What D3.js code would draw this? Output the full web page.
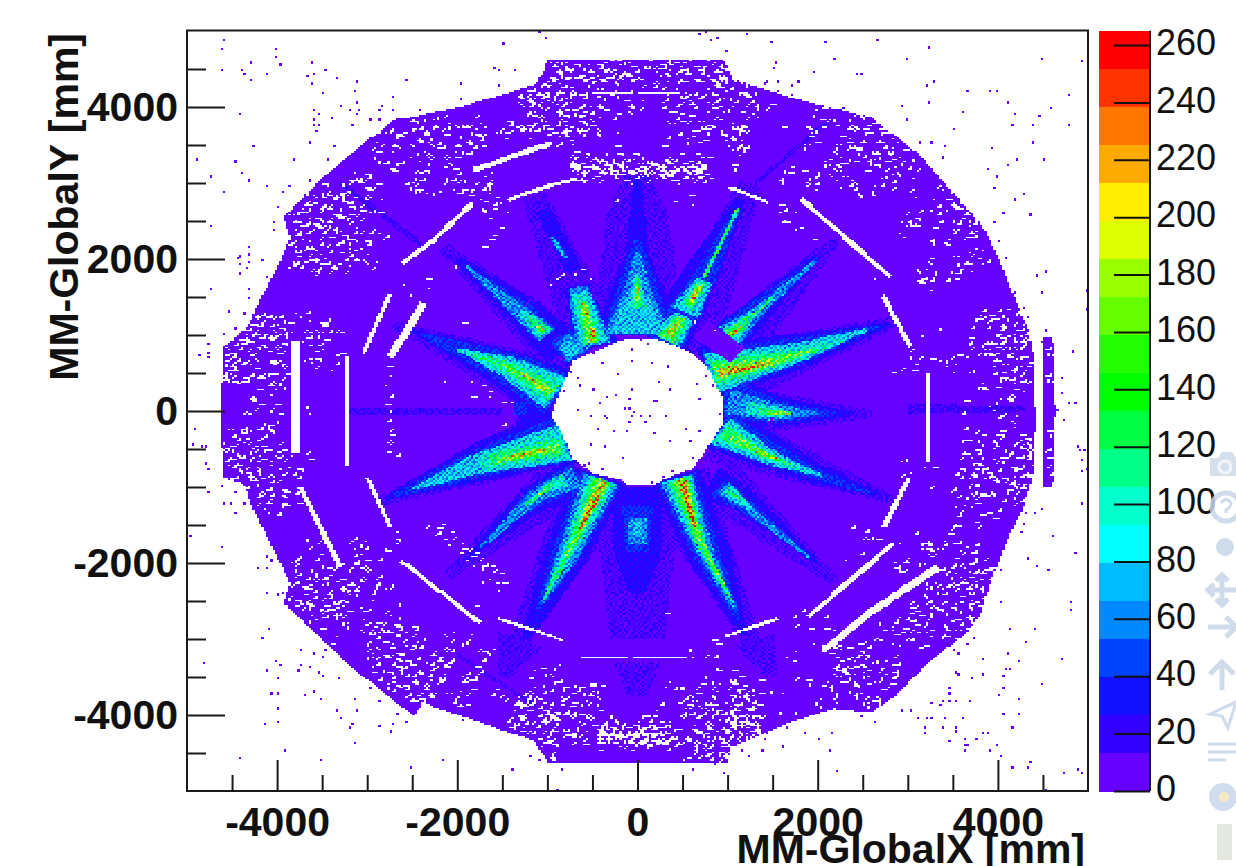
<!DOCTYPE html>
<html>
<head>
<meta charset="utf-8">
<title>MM-GlobalX vs MM-GlobalY</title>
<script src="https://cdn.jsdelivr.net/npm/d3@7"></script>
<style>
  html, body { margin: 0; padding: 0; background: #fff; overflow: hidden; }
  text { font-family: "Liberation Sans", Arial, sans-serif; fill: #111; }
</style>
</head>
<body>
<svg id="chart" width="1236" height="866"></svg>
<script>
// colour bar, low to high
var palette = ["#6600ff","#3300ff","#1111ff","#0044ff","#0088ff","#00bbff","#00ffff","#00ffcc","#00ff88","#00ff44",
               "#00ff00","#22ff00","#66ff00","#99ff00","#ddff00","#ffee00","#ffaa00","#ff7700","#ff3300","#ff0000"];
var colorTicks = [0,20,40,60,80,100,120,140,160,180,200,220,240,260];
var colorMax = 265;
var xMajor = [-4000,-2000,0,2000,4000];
var yMajor = [-4000,-2000,0,2000,4000];
var minorTicks = [-4500,-3500,-3000,-2500,-1500,-1000,-500,500,1000,1500,2500,3000,3500,4500];
var binSize = 25;
var baseLevel = 6;

// detector edge [x, y] in mm
var outline = [[-988,4619],[955,4619],[1066,4356],[1920,4053],[2586,3869],[3108,3395],[3508,2869],[3841,2421],[4029,1948],
  [4229,1369],[4340,1066],[4396,711],[4418,-158],[4385,-869],[4285,-1263],[4140,-1605],[4063,-1829],[3918,-2264],[3807,-2658],
  [3663,-2908],[3252,-3277],[2842,-3764],[2586,-3961],[2176,-3908],[1698,-4093],[1032,-4422],[999,-4619],[-988,-4619],
  [-1154,-4330],[-1521,-4185],[-1743,-4093],[-2375,-3843],[-2486,-4001],[-2708,-3803],[-3219,-3316],[-3663,-2816],[-3929,-2527],
  [-3852,-2264],[-4074,-1737],[-4273,-1263],[-4373,-948],[-4595,-869],[-4618,-342],[-4618,276],[-4595,842],[-4329,1105],
  [-4207,1421],[-3996,1895],[-3852,2290],[-3929,2553],[-3741,2777],[-3519,3040],[-3152,3408],[-2708,3830],[-1965,4001],
  [-1332,4224],[-1132,4290]];
var rightStrip = [[4500,974],[4610,974],[4640,0],[4610,-1000],[4500,-1000],[4490,0]];
var hole = [[56,961],[-189,934],[-710,671],[-821,368],[-932,53],[-944,-79],[-821,-342],[-710,-645],[-488,-816],[-189,-908],
  [-100,-974],[178,-974],[400,-842],[622,-750],[810,-421],[955,-158],[955,145],[777,579],[555,803],[255,934]];

// ribbons: [value, x, y, halfWidth, x, y, halfWidth, ...] in mm
var haze = [
  [14, 0,1000,520, 0,2600,340, 0,3100,140],
  [14, 500,800,380, 1250,3000,130],
  [14, 1000,800,340, 2200,2250,60],
  [14, 800,400,450, 2900,1200,60],
  [14, 900,0,380, 2600,-30,50],
  [14, 900,-300,380, 2900,-1200,40],
  [14, 850,-900,340, 2200,-2250,50],
  [14, 400,-900,420, 1300,-3100,90],
  [14, 0,-1000,500, 0,-3000,300],
  [14, -400,-900,420, -1350,-3100,100],
  [14, -700,-800,340, -2100,-2150,60],
  [14, -800,-300,420, -2900,-1200,50],
  [14, -850,250,420, -2700,1150,50],
  [14, -800,800,340, -2150,2150,70],
  [14, -500,1000,340, -1150,2850,130],
  [16, -3200,0,40, -1500,0,60],
  [16, 3000,30,70, 4300,30,40],
  [14, 0,-3300,260, 0,-3750,100],
  [14, -1300,-3000,280, -1500,-3500,60],
  [14, 1300,-3000,240, 1500,-3500,50],
  [16, -2000,-3200,24, -1100,-3900,16],
  [16, 2300,4000,16, 1300,3000,24],
  [16, -3300,3000,30, -2400,2200,36]
];
var streakA = [
  [24, -450,850,250, -680,1650,130],
  [60, -480,870,200, -660,1640,110],
  [90, -490,900,150, -640,1560,85],
  [115, -500,900,100, -620,1450,55],
  [150, -500,900,55, -600,1400,36],
  [200, -510,920,26, -500,1100,18],
  [200, -540,1250,26, -600,1420,18]
];
var streakB = [
  [24, 0,1000,460, 0,1300,400, 0,2100,120, 0,3050,50],
  [38, 0,1000,400, 0,1500,260, 0,2250,40],
  [60, 0,1020,360, 0,1600,150, 0,2100,30],
  [75, 0,1020,300, 0,1500,130],
  [90, 0,1350,100, 0,1800,30],
  [120, 0,1380,46, 0,1750,24],
  [170, 0,1450,24, 0,1650,16],
  [60, 0,2350,12, 0,3100,12]
];
var streakC = [
  [24, 300,900,280, 700,1800,200, 1150,2800,60],
  [38, 300,900,220, 740,1750,130, 1100,2650,36],
  [75, 320,950,180, 520,1250,110],
  [75, 520,1300,170, 740,1720,90],
  [100, 310,930,140, 500,1230,85],
  [100, 540,1350,85, 720,1700,55],
  [140, 320,950,95, 490,1230,55],
  [140, 570,1400,50, 700,1680,34],
  [175, 350,1000,50, 470,1190,26],
  [175, 590,1420,30, 680,1640,18],
  [245, 610,1440,16, 670,1600,14],
  [75, 730,1750,22, 1120,2680,18],
  [120, 730,1750,18, 1120,2680,14]
];
var streakD = [
  [24, 1000,950,230, 2000,2050,36],
  [38, 1020,1000,190, 1500,1550,70, 2000,2000,18],
  [60, 1020,1000,160, 1300,1280,70, 1980,1980,16],
  [90, 1030,1000,120, 1270,1270,42],
  [120, 1020,1000,75, 1250,1250,20, 1500,1480,14],
  [170, 1020,1000,34, 1150,1120,18],
  [240, 1040,1010,18, 1100,1080,14]
];
var streakE = [
  [24, 760,500,370, 1800,800,230, 2800,1150,24],
  [38, 780,500,320, 1800,800,170, 2700,1130,20],
  [75, 800,500,270, 1800,780,125, 2550,1080,20],
  [90, 820,510,220, 1700,740,100, 2300,950,20],
  [115, 850,510,165, 1600,700,75, 2000,820,24],
  [150, 870,510,110, 1550,670,42, 1950,810,16],
  [190, 900,510,60, 1500,650,22],
  [225, 1000,530,26, 1350,590,14]
];
var streakF = [
  [24, 900,200,340, 1500,0,210, 2400,-30,24],
  [38, 950,180,240, 1500,0,160, 2200,-30,22],
  [60, 1000,130,165, 1500,0,120, 2000,-30,20],
  [90, 1200,40,90, 1600,-20,70],
  [120, 1350,0,50, 1700,-30,32],
  [160, 1450,-20,22, 1700,-30,14]
];
var streakG = [
  [24, 880,-200,310, 1900,-780,150, 2700,-1100,20],
  [38, 900,-230,250, 1900,-790,80, 2600,-1080,16],
  [75, 920,-250,200, 1500,-620,90, 2050,-850,18],
  [90, 930,-260,155, 1450,-600,65, 1900,-790,14],
  [120, 950,-270,100, 1400,-570,42, 1700,-700,14],
  [150, 1050,-340,50, 1500,-610,16],
  [190, 1300,-530,14, 1550,-630,12]
];
var streakH = [
  [24, 420,-850,280, 800,-1900,240, 1200,-2950,36],
  [38, 430,-880,220, 780,-1900,150, 1130,-2750,22],
  [60, 430,-880,185, 750,-1850,95, 1090,-2620,18],
  [90, 450,-880,155, 700,-1750,62, 1000,-2400,14],
  [115, 460,-890,120, 700,-1750,40, 1060,-2530,12],
  [150, 470,-890,85, 680,-1650,24, 980,-2330,12],
  [190, 490,-900,46, 640,-1530,18],
  [230, 500,-920,26, 650,-1560,12],
  [258, 540,-1180,14, 620,-1480,12]
];
var streakI = [
  [24, -400,-850,300, -800,-1900,250, -1250,-3000,40],
  [38, -400,-880,240, -800,-1900,160, -1100,-2600,26],
  [60, -400,-880,205, -780,-1900,120, -1060,-2520,20],
  [90, -400,-900,160, -720,-1750,80, -1000,-2350,14],
  [115, -400,-900,120, -700,-1700,46, -1040,-2480,12],
  [150, -380,-900,85, -680,-1650,24, -800,-1900,16],
  [190, -360,-920,50, -600,-1430,20],
  [230, -450,-1150,25, -640,-1540,14],
  [258, -490,-1250,14, -620,-1500,12]
];
var streakJ = [
  [24, -760,-300,370, -1700,-650,260, -2800,-1150,24],
  [38, -780,-350,310, -1750,-680,190, -2700,-1110,20],
  [75, -800,-400,250, -1800,-700,130, -2500,-1020,16],
  [90, -820,-430,195, -1750,-690,100],
  [115, -840,-460,120, -1650,-650,72],
  [150, -860,-480,55, -1550,-640,34],
  [190, -1000,-510,24, -1450,-610,14]
];
var streakK = [
  [24, -620,-820,240, -1200,-1200,170, -1900,-1950,24],
  [38, -650,-850,175, -1100,-1100,130, -1500,-1500,22],
  [60, -670,-880,140, -1100,-1080,95, -1750,-1800,14],
  [90, -800,-900,90, -1050,-1030,55],
  [115, -950,-960,40, -1250,-1240,18],
  [150, -1000,-1000,18, -1100,-1100,12]
];
var streakL = [
  [24, 800,-950,240, 1100,-1100,170, 2000,-2000,24],
  [38, 900,-1000,140, 1150,-1200,100, 1700,-1700,18],
  [60, 950,-1000,100, 1200,-1250,55, 1900,-1920,14],
  [90, 1000,-1020,65, 1250,-1280,22],
  [130, 1020,-1050,18, 1120,-1150,12]
];
var streakM = [
  [24, -800,800,250, -1300,1350,190, -2000,2000,40],
  [38, -1000,1000,135, -1300,1350,110, -1900,1900,20],
  [60, -1000,1000,120, -1300,1300,90, -1900,1910,14],
  [90, -1020,1030,90, -1280,1300,50],
  [120, -1040,1060,42, -1200,1230,16],
  [170, -1050,1060,14, -1120,1140,12],
  [38, -640,720,190, -850,1000,140],
  [60, -660,740,140, -840,950,100],
  [75, -680,760,85, -800,900,65]
];
var streakN = [
  [24, -860,200,370, -1400,530,260, -2500,1070,24],
  [38, -880,220,300, -1400,560,210, -2400,1010,20],
  [75, -900,240,240, -1400,570,150, -2000,820,18],
  [90, -920,250,195, -1450,590,100, -2000,810,14],
  [115, -930,250,115, -1500,620,55, -1850,760,14],
  [150, -940,250,55, -1500,620,20],
  [190, -1000,290,24, -1280,480,14]
];
var streakO = [
  [24, -1050,2650,80, -700,1850,90],
  [60, -950,2300,25, -800,2020,20],
  [90, -920,2250,14, -830,2080,12]
];
var streakP = [
  [24, 0,-1000,300, 0,-1900,260, 0,-2400,80],
  [38, 0,-1250,170, 0,-1850,130],
  [60, 0,-1400,100, 0,-1750,90],
  [75, 0,-1450,50, 0,-1620,45]
];
var streakQ = [
  [24, -1150,250,130, -1200,-180,150],
  [38, -1300,130,75, -1300,-60,65]
];
var streaks = [haze, streakA, streakB, streakC, streakD, streakE, streakF, streakG, streakH, streakI,
               streakJ, streakK, streakL, streakM, streakN, streakO, streakP, streakQ];

// the dead rectangle beside the upper right streak
var quietBar = [699,1092,130, 1110,737,130];

// bin to bin fluctuation around the read levels, percent
var binFluctuation = [
  [92,118,74,131,86,105,68,124,97,79,138,88,110],
  [121,83,103,70,127,94,116,76,134,101,66,119,85],
  [72,109,136,90,64,122,81,107,71,129,93,112,78],
  [114,95,77,125,99,69,133,87,115,82,104,73,128],
  [84,130,67,108,117,91,75,126,63,120,98,135,89],
  [126,73,111,96,80,137,102,65,113,90,123,76,106],
  [100,88,124,62,132,78,110,93,128,70,85,116,67],
  [69,135,83,119,98,112,61,122,86,108,74,95,131],
  [117,77,101,128,72,89,125,105,66,134,92,64,103],
  [81,112,65,94,123,74,99,130,118,60,127,84,121],
  [107,91,129,75,109,133,83,71,96,116,79,137,94]
];

// empty chamber gaps [x, y, halfWidth, ...]
var gaps = [
  [-1820,3172,36, -966,3527,36],
  [-2608,1948,30, -2264,2250,30, -1832,2737,30],
  [-1443,2777,26, -966,2974,26, -666,3066,22],
  [-488,4198,13, -60,4198,13],
  [0,4198,13, 477,4198,13],
  [1010,2948,22, 1454,2750,24],
  [1809,2803,30, 2808,1763,30],
  [2731,1500,28, 3030,842,28],
  [3230,500,26, 3230,-684,32],
  [3008,-882,28, 2731,-1527,32],
  [1887,-2711,30, 2842,-1737,30],
  [2065,-3145,40, 2586,-2645,46, 3330,-2053,50],
  [977,-2961,22, 1565,-2724,22],
  [-633,-3237,13, -100,-3237,13],
  [-50,-3237,13, 555,-3237,13],
  [-1543,-2724,22, -821,-3014,18],
  [-2631,-1961,26, -1743,-2790,28],
  [-3741,-1000,28, -3297,-2053,32],
  [-2997,-869,24, -2742,-1527,24],
  [-3041,763,24, -2742,1553,26],
  [-3796,930,55, -3796,-553,42],
  [-3219,737,30, -3219,-737,30],
  [-2742,711,44, -2375,1421,46],
  [-743,3220,25, -630,3210,30],
  [640,3190,40, 720,3150,40]
];

// white speckle rows: [y, x, x, x ...] in mm
var speckRows = [
  [4575,-966,-874,-781,-689,-541,-411,-300,-189,-97,107,292,477,588,736,902],
  [4510,-911,-800,-633,-485,-356,-245,88,218,366,514,699,847,940],
  [4443,-929,-837,-726,-578,-411,-300,-189,-59,199,329,440,625,810,902],
  [4378,-1077,-966,-781,-633,-485,-374,-226,-115,-4,218,310,458,551,736,884],
  [4312,-1059,-911,-837,-689,-522,-337,-207,292,495,662,865,921],
  [4246,-1114,-1003,-837,-578,-429,-207,52,199,440,625,791,940],
  [4136,-1317,-1206,-1059,-929,-744,-633,-429,-300,-134,144,292,514,699,847],
  [4070,-1225,-1133,-911,-837,-726,-411,-207,292,495,588,791,921],
  [4005,-1170,-1022,-818,-596,-448,-97,33,440,588,884],
  [3939,-1133,-763,-522,-411,-97,440,791,847],
  [3829,-1206,-1059,-855,-633,-522,-263,329,440,551,699,810,1161],
  [3719,-1484,-1336,-1170,-837,-559,-448,366,458,699,755,1050],
  [3632,-1262,-1188,-1040,-781,-633,-559,-448,570,717,791,940,1069,1143],
  [3566,-1022,-837,-245,292,570,699],
  [3280,-726,-596,-448,-263,-78,70,292,440,625,736],
  [3250,-700,-610,-500,-380,-200,-40,120,300,470,590,700],
  [3215,-744,-651,-522,-411,-300,-152,-4,126,255,366,514,662],
  [3180,-720,-630,-540,-440,-350,-230,-110,10,160,280,420,560,690],
  [3150,-689,-577,-466,-337,-245,-97,33,199,347,477,607,718],
  [3115,-700,-600,-500,-390,-300,-170,-50,80,220,340,450,570,680],
  [3085,-651,-559,-411,-281,-133,15,126,255,384,532,680,773],
  [3050,-620,-470,-330,-210,-60,70,190,320,460,600,730],
  [-4200,-445,-370,-260,-120,-20,50,130,230,320],
  [-4230,-420,-330,-240,-160,-90,0,70,160,280],
  [-4260,-440,-350,-290,-200,-60,20,90,180,260],
  [-4290,-400,-300,-180,-110,-30,60,140,220,310],
  [-4320,-450,-310,-220,-140,-50,30,110,200,280,340],
  [-4355,-430,-260,-170,-90,-20,50,120,250],
  [-4390,-410,-330,-200,-130,-70,-10,70,160,300,230],
  [-4308,-1206,-985,-818,-744,-633,-596],
  [-4440,-1114,-1040,-929,329,403,495,625,791,902,995],
  [-4570,-1096,-966,514,625,773,902,995],
  [-4067,-1355,-1077,-1022,-688,-566],
  [-4145,-1410,-1280,-1151,-615,-522,-411,144,218,625,791,1032,1125,1217,1310],
  [-4119,-948,-892],
  [-3979,-1299,-1059,-781,544,710,754,847],
  [-4001,-966,-818,987,1235],
  [-3812,-1355,551,617,847,1099,1191,1235],
  [-3838,-1299,-1243,-1077,-541],
  [-3900,-1355,-1206,-1003,-763,-615,-448,222,499,617,1058,1099,1235],
  [-3825,-836,-725,-1188],
  [-3680,-1188,-955,-703,-515,314,407,477],
  [-3702,-1047,-844,-677,-633,-541,-426,662,1099,1143],
  [-3759,-844,-448,455,617,802,987,1235],
  [-3457,-1188,-966,-910],
  [-3540,-888,1032,1099],
  [-4058,-289,59,477,544,640,847,891,1050,1099,1191,1284],
  [-4230,403,570,736,921,1125,1272],
  [-4330,403,514,625,736,810,995,1106,1254],
  [2900,-3480,-3296,-3222],
  [2830,-3592,-3444,-3333],
  [2760,-3666,-3481,-3370,-3259,-3019],
  [2690,-3740,-3629,-3518,-3407,-3296,-3185],
  [2600,-3851,-3703,-3555,-3481,-3333,-3222,-3111],
  [2530,-3814,-3666,-3518,-3370,-3259,-3185,-2963],
  [2460,-3777,-3685,-3592,-3444,-3314,-3111],
  [2370,-3777,-3666,-3536,-3444,-3333,-3222,-2907],
  [2280,-3796,-3648,-3518,-3407,-3259,-3111,-2815],
  [2210,-3851,-3703,-3518,-3333,-3185,-3000],
  [2130,-3777,-3685,-3592,-3444,-3296,-3185,-3055],
  [2050,-3796,-3666,-3555,-3463,-3222,-3037],
  [1980,-3814,-3685,-3592,-3240,-3185],
  [1920,-3851,-3777,-3555,-3426,-3130,-3019,-2926],
  [1820,-3611,-3536,-3407,-3352,-3240],
  [3830,-2667,-2556,-2482],
  [3760,-2482,-2408,-2260,-2167,-2020,-1927,-1835],
  [3660,-2889,-2741,-2630,-2482,-2371,-2260,-2130,-1908,-1779,-1723],
  [3580,-2778,-2667,-2519,-2408,-2297,-2130,-1889,-1797,-1557],
  [3490,-2926,-2852,-2704,-2648,-2427,-2316,-2204,-2001,-1853,-1742],
  [3400,-2889,-2704,-2519,-2371,-2260,-2001,-1927,-1835],
  [3280,-2908,-2815,-2630,-2445,-2316,-2149,-2056],
  [3150,-2741,-2704,-2463,-2352,-2130,-2038],
  [3050,-3074,-3019,-3148,-2463,-2352,-2112,-2020,-1687,-1650],
  [2950,-3222,-3130,-2926,-2556,-2500,-1705,-1668],
  [2880,-3019,-2463,-2390,-2186,-2038,-1945,-1835,-1687],
  [2680,-3056,-2870,-1723,-1594],
  [4200,-1298,-1187,-1039,-891,-743],
  [4060,-1316,-1187,-1039,-891,-780],
  [3960,-1261,-1094,-891,-780,-650],
  [3820,-1205,-1094,-854,-688],
  [3730,-1465,-1316,-1187,-928,-854,-669],
  [3650,-1465,-1261,-1076,-817,-650],
  [3500,-1002,-891,-743],
  [1270,-4204,-4130,-3778],
  [1200,-4259,-4165,-4074,-3963,-3667],
  [1130,-4277,-4204,-4037,-3907,-3556,-3445],
  [1050,-4333,-4259,-4074,-3963,-3686,-3482,-3334],
  [980,-4352,-4240,-4130,-4037,-3537,-3463],
  [910,-4481,-4389,-4277,-4166,-4056,-3889,-3648,-3537],
  [850,-4573,-4463,-4352,-4222,-4093,-3982,-3704,-3556],
  [770,-4555,-4407,-4314,-4185,-4018,-3926,-3575,-3334],
  [690,-4573,-4481,-4333,-4222,-4000,-3686,-3519],
  [600,-4555,-4426,-4277,-4074,-3945,-3612,-3389],
  [530,-4573,-4518,-4259,-4092,-3981],
  [470,-4611,-4536,-4277,-4203],
  [400,-4592,-4481,-4389,-4092,-3926],
  [320,-4536,-4407,-4222,-4074,-3963],
  [170,-4296,-4056],
  [-30,-4240,-4056,-3667],
  [-110,-4351,-4092,-4000],
  [-210,-4389,-4204,-4130],
  [-320,-4536,-4426,-4333,-4074],
  [-420,-4518,-4407,-4259,-4166],
  [-500,-4592,-4500,-4352,-4222,-4000],
  [-570,-4592,-4481,-4278,-4148,-3981],
  [-640,-4555,-4426,-4278,-4204,-3963,-3667],
  [-720,-4536,-4463,-4333,-4222,-4056,-3870],
  [-800,-4536,-4389,-4259,-4092,-3963,-3815],
  [-880,-4555,-4463,-4314,-4204,-4074,-3981,-3760],
  [-960,-4333,-4222],
  [-1040,-4111,-3945],
  [-1120,-4203,-4092,-3945,-3797],
  [-1210,-4222,-4111,-3945,-3760],
  [-1320,-4130,-3981],
  [1290,3974,4066,3789],
  [1200,3807,3881,4214],
  [1130,3714,3899,4066,4177,4288],
  [1040,4047,4177,4270],
  [950,3992,4066,4177,4270,4380],
  [880,3678,3844,3937,4029,4140,4251,4380],
  [810,3678,3788,3881,4029,4140,4251],
  [740,3659,3862,3955,4103,4214,4380],
  [660,3437,3530,3862,3955,4066,4251,4362],
  [560,3955,4066,4177,4270],
  [490,4159,4288],
  [430,3696,4103,4177,4270],
  [350,3788,4047,4159,4251],
  [260,3807,3992,4140,4288],
  [170,4103,4159],
  [30,3603,3918,3992],
  [-70,4010],
  [-190,4159,4177],
  [-340,3603,3714,3788,3974,4029,4270],
  [-410,3955,4196,4325],
  [-490,3603,3788,3992,4140,4251,4325],
  [-570,3714,3955,4085,4233,4325],
  [-650,3585,3788,4066,4251,4325],
  [-730,3733,3844,3992,4177,4288],
  [-800,3548,3714,3844,3974,4159,4270,4380],
  [-880,3585,3733,3918,4010,4140,4251,4325],
  [-960,3677,3752,3862,4084,4195,4288],
  [-1030,3492,3714,3955,4121,4251],
  [-1140,3659,3733,3807,3900,4066,4177],
  [-1220,3530,3714,3770,4177,4251],
  [-1340,3585,3844,3974],
  [-1460,3770,3530],
  [846,4540],[671,4560],[495,4540],[320,4560],[-338,4550],[-514,4540],[-689,4560],[-821,4550],
  [3900,1957,2031,2475,2549],
  [3800,2179,2364,2512,2623],
  [3690,1883,2068,2327,2401,2512,2697],
  [3580,1865,1939,2216,2364,2493,2660,2808],
  [3500,1865,1975,2216,2345,2493,2697,2845,2993],
  [3410,2179,2327,2401,2623,2790,2919],
  [3320,2086,2216,2512,2642,2808,2956],
  [3230,2086,2216,2327,2420,2642,2771,3011],
  [3150,2142,2234,2549,2642,2827,2900],
  [3070,1975,2161,2345,2716,2845,3067],
  [2960,1883,1975,2253,2401,2716,2827],
  [2850,2604,3048,3345,3437],
  [2700,3252,3437,3548,3659],
  [2600,3085,3326,3511,3622],
  [2500,2975,3085,3326,3585,3770],
  [2400,2900,3030,3511,3696,3807],
  [2310,2956,3252,3511,3659,3733],
  [2220,3400,3474,3640,3696],
  [2080,3252,3715,3789],
  [1960,3234,3511,3659,3844],
  [1850,3530,3585,3678],
  [1790,3104,3178,3270,3437,3548],
  [1670,3104,3160,3252],
  [4350,940,1050,1124],
  [4250,1032,1162],
  [4120,1032,1088,1180,1272],
  [4000,1162,1309,1446],
  [3880,921,1013,1291],
  [3820,1162],
  [3640,1088,1162],
  [3600,939,1032],
  [3430,1013,1106],
  [3360,1069,1143,1199],
  [3160,1050],
  [-1720,3418],
  [-1810,3160,3233,3511,3622,3715],
  [-1890,3160,3233,3345,3548,3733],
  [-2010,2863,2919,3141,3252,3733],
  [-2090,2863,2956,3437,3548,3696,3826,3918],
  [-2160,3345,3474,3604,3733,3862],
  [-2240,3308,3437,3548,3659,3770,3900],
  [-2320,3215,3437,3548,3659,3770],
  [-2400,3178,3345,3511,3678,3807],
  [-2480,3215,3345,3548,3678,3789,3918],
  [-2560,3048,3215,3382,3548,3733,3881],
  [-2620,3048,3270,3437,3678,3807],
  [-2700,3048,3104,3345,3548,3659],
  [-2780,2845,3048,3197,3437,3678,3770],
  [-2850,2697,2827,2956,3215,3400,3548,3659],
  [-2940,3030,3215,3400,3548],
  [-3010,2179,2827,2900,3067,3382],
  [-3090,2179,2512,2642,2993,3141],
  [-3150,2050,2142,2234,2327,2456],
  [-3220,2068,2161,2438,2549],
  [-3300,2216,2327,2493,2623,2827],
  [-3380,2179,2272,2364,2512,2716,2845],
  [-3470,2179,2272,2364,2512,2678,2845],
  [-3550,2253,2364,2512,2716,2827],
  [-3640,2105,2290,2401,2642],
  [-3720,2031,2161,2364,2456,2660,2771,662,1013,1106],
  [-3800,2179,2401,2530,2623,810,1180,1328],
  [-3880,1994,2512,2697],
  [-3900,644,754,995,1217],
  [-3980,699,754,995,1087,1235],
  [-4060,644,884,1032,1162,1272,1346],
  [-4140,773,995,1087,1180,1291],
  [-4220,736,939,1069,1217,1309],
  [-4300,625,717,884,995,1217],
  [-4390,644,736,939,1013,1087],
  [-4480,773,902,976],
  [-4580,644,921,976],
  [-1800,-3666,-3536,-3185,-3056],
  [-1900,-3555,-3148,-3056],
  [-1980,-3796,-3148,-3037],
  [-2060,-3833,-3796,-3130,-3056],
  [-2140,-3777,-3611,-3481,-3352,-3185,-3018],
  [-2210,-3796,-3592,-3444,-3333,-3222,-3074],
  [-2290,-3796,-3666,-3481,-3296,-3204,-3111,-2889],
  [-2370,-3722,-3611,-3481,-3259,-3148,-2926,-2741],
  [-2440,-3869,-3740,-3629,-3444,-3296,-3148,-2944],
  [-2520,-3906,-3777,-3629,-3463,-3333,-3240],
  [-2600,-3796,-3666,-3518,-3370,-3259,-3074],
  [-2670,-3703,-3555,-3444,-3333,-3037],
  [-2750,-3647,-3481,-3370,-3259,-2778,-2685],
  [-2830,-3518,-3259,-3037,-2926,-2852],
  [-2900,-3056,-2944,-2815,-2667,-2500],
  [-2990,-3388,-2889,-2778,-2667,-2593,-2149,-2075,-1890],
  [-3070,-3000,-2852,-2704,-2519,-2408,-1927],
  [-3150,-3000,-2926,-2741,-2593,-2482,-2112,-1760,-1631],
  [-3230,-2981,-2852,-2667,-2519,-2334,-2186,-2075,-1705],
  [-3310,-2926,-2778,-2667,-2556,-2297,-2223,-2112],
  [-3390,-2926,-2760,-2630,-2482,-2278,-2149],
  [-3470,-2852,-2704,-2612,-2463,-2297,-2167,-1927,-1816],
  [-3550,-2760,-2612,-2482,-2316,-2186,-1927,-1779],
  [-3620,-2760,-2630,-2500,-2371,-2223,-1908],
  [-3700,-2704,-2556,-2408,-2278,-2112,-1890],
  [-3780,-2556,-2463,-2316,-2001,-1613,-1502],
  [-3870,-2482,-2389,-2038,-1927,-1335,-1224],
  [-3960,-1298,-1076,-983,-724],
  [-4070,-1353,-1261,-1057,-965,-743],
  [-4150,-1427,-1353,-1039,-947,-669],
  [-4250,-1298,-1131,-965,-817],
  [-4360,-1076,-983,-724]
];
// loose white specks [x, y]
var looseSpecks = [[-2760,583],[-2740,473],[-2780,342],[-2740,188],[-2780,78],[-2740,-9],[-2760,-141],[-2740,-251],[-2750,-316],[-2740,-434],[-2760,-536],
  [-2224,-1544],[-2168,-1478],[-2242,-1632],[-2150,-1698],[-2057,-1588],[-2002,-1654],[-2094,-1763],[-1946,-1741],[-1965,-1873],[-1873,-1829],[-1780,-1851],[-1891,-1961],
  [-1743,-1961],[-1817,-2049],[-1669,-2005],[-1724,-2092],[-1595,-2114],[-1650,-2202],[-1521,-2136],[-1558,-2268],[-1540,-2356],[-1484,-2268],[-2335,-1544],[-2187,-1610],
  [-2039,-1698],[-1928,-1807],[-1836,-1917],[-1706,-2027],[-1614,-2049],
  [-1484,-197],[-2760,-425],[-2668,-579],[-2761,-535],[-2668,-1588],[-2668,-1698],[-2779,-1829],[-1724,-2268],[-1780,-2575],[-2779,-2334],[-2631,-2553],[311,-2663],
  [-2630,-2553],[-2889,-2224],[-2870,-1970],[-2667,-1750],[-2796,-1820],
  [-2464,2908],[-2390,2917],[-2272,2829],[-2039,2908],[-1947,2908],[-1954,2856],[-1828,2908],[-1872,2829],[-1743,2777],[-1595,2711],[-1502,2733],[-1447,2623],[-1688,2601],
  [-1650,2536],[-1521,2404],[-1576,2303],[-1650,2272],[-1717,2171],[-2021,1891],[-2342,1733],[-2576,1671],[-2305,1614],[-2501,1505],[-1947,1154],[-2131,386],[-1836,386],
  [-1725,329],[-1836,188],[-1650,254],[-1650,188],[-1484,123],[-1392,110],[-959,1671],[-892,1746],[-836,1790],[-677,1790],[-515,1733],[-607,1864],[-237,2768],[410,2768],
  [588,2829],[618,2724],[1624,2987],[1883,2952],[1975,2917],[2253,2930],[2457,2829],[2605,2856],[1587,2614],[1753,2601],[1631,2492],[1753,2382],[1816,2413],[1957,2250],
  [2649,1733],[644,1154],[866,1066],
  [2734,1513],[3160,991],[3363,1057],[3048,780],[3141,680],[3041,684],[3085,605],[3067,539],[2937,539],[2838,517],[3252,692],[3430,649],[3511,517],[3363,662],
  [2949,-658],[2993,-658],[3252,-1018],[3197,-733],[3289,-733],[2930,-851],[3041,-821],[2375,-1536],[2420,-1536],[2531,-1597],[2512,-1676],[2567,-1676],[2667,-1698],
  [3086,-1624],[3492,-1558],[3530,-1479],[3789,-1532],[3160,-1764],[3233,-1764],[3400,-1764],[2808,-1764],[2752,-1786],
  [1605,3742],[1587,3040],[1642,3128],[1680,3128],[1717,3216],[1827,3172],[1901,3040],[1883,2952],[1975,3062],[2364,2974],[2401,2909],[2475,2821],[1587,2711],[1642,2637],
  [1624,2492],[1753,2391],[1816,2417],[1957,2250],
  [884,-3408],[773,-3518],[847,-3592],[921,-3592],[1032,-3540],[1087,-3540],[1358,-3540],[1476,-3702],[1605,-3702],[1587,-3978],[1753,-3978],[1883,-3540],[1901,-3606],
  [1753,-3540],[1661,-3233],[1772,-3167],[1735,-3277],[606,-3233],[754,-3233],[865,-3233],[884,-3070],[847,-3013],[1735,-2706],[1827,-2627],[1772,-2838],[1920,-2860],
  [2094,-2873],[2186,-2882],[1957,-3070],[2075,-2715],[2493,-1895],[2301,-1974],[2530,-1675],[2612,-1697],[2678,-1697],[2401,-1530],[3093,-1618],[2900,-1750],[3788,-1530],[3511,-1544],
  [588,-3154],[895,-3400],[773,-3509],[847,-3593],[917,-3593],[-1059,-3387],[-1022,-3483]];

// single counts outside the detector and inside the hole [x, y]
var strayPoints = [[-4591,4882],[-4610,4750],[-4006,4772],[-4006,4663],[-3962,4553],[-4288,4584],[-4610,4496],[-4380,4496],[-4358,4443],[-4125,4443],[-4288,4355],[-3614,4584],
  [-3455,4496],[-3592,4443],[-3662,4412],[-3614,4303],[-3340,4386],[-3107,4333],[-3129,4220],[-3500,4180],[-3107,4057],[-2715,4136],[-2574,4355],[-1953,4303],[-1975,4110],
  [-1535,4277],[-1583,4522],[-1535,4496],[-1372,4496],[-1490,4825],[-1002,4904],[-1076,4983],[-4425,3917],[-3592,3970],[-3548,3917],[-3292,4000],[-3178,3970],[-3107,3917],
  [-3085,3952],[-2874,3970],[-2830,4000],[-2715,3952],[-2415,3970],[-3592,3838],[-3385,3864],[-2967,3838],[-2874,3838],[-3592,3755],[-3548,3755],[-3570,3698],[-3152,3755],
  [-3636,3535],[-3363,3478],[-4265,3478],[-4887,3316],[-4473,3290],[-3821,3316],[-3429,3316],[-4380,3149],[-4746,3097],[-4310,3040],[-3636,3040],[-4103,2961],[-3870,2961],
  [-4587,2877],[-3940,2877],[-3988,2684],[-4032,2491],[-4728,2439],[-4032,2382],[-4310,2163],[-4450,2000],[-4425,2031],[-4402,1943],[-4310,2053],[-4310,1965],[-4173,1978],
  [-4332,1891],[-4425,1812],[-4125,1755],[-4728,1614],[-4310,1614],[-4310,1478],[-4543,1316],[-4358,1285],
  [684,4962],[755,4988],[821,4883],[891,4905],[1217,4962],[1494,4852],[2094,4852],[2671,4883],[3226,4799],[988,4742],[2186,4633],[2975,4633],[4499,4633],[4939,4606],[1539,4580],
  [1517,4523],[1957,4470],[2438,4444],[2486,4444],[1446,4334],[1402,4304],[1561,4334],[1794,4334],[1702,4277],[1561,4220],[1724,4168],[3296,4334],[3204,4277],[3666,4220],
  [3900,4220],[3992,4220],[4776,4168],[3226,4058],[4107,4058],[2949,4005],[3622,3948],[4177,3918],[4591,3975],[4454,3891],[2975,3839],[3504,3703],[4151,3755],[4384,3755],
  [4776,3755],[3134,3536],[3274,3536],[3411,3479],[4384,3536],[3944,3457],[3389,3347],[4221,3317],[4510,3317],[4107,3233],[3899,3181],[3992,3097],[3966,2931],[4292,2852],
  [4199,2795],[4059,2602],[4362,2575],[3966,2492],[4014,2246],[4084,2000],[4547,1834],[4429,1781],[4499,1562],[4199,1562],[4292,1369],[4336,1233],[4984,1593],[4984,1342],
  [4292,-1478],[4270,-1592],[4617,-1645],[4869,-1868],[4325,-1947],[4432,-2031],[4569,-2083],[4036,-2083],[4036,-2522],[4824,-2522],[4824,-2605],[4129,-2851],[4406,-2851],
  [3737,-2987],[3666,-3070],[3504,-3127],[3552,-3180],[4314,-3044],[4107,-3180],[4710,-3263],[3829,-3263],[4244,-3290],[4085,-3399],[4129,-3399],[3530,-3430],[3552,-3456],
  [4059,-3483],[3829,-3456],[3714,-3509],[4499,-3592],[3459,-3649],[3459,-3702],[4059,-3649],[4014,-3728],[4225,-3785],[3274,-3838],[3389,-3812],[3459,-3812],[3530,-3812],
  [3689,-3812],[3367,-3869],[2926,-3948],[3041,-3948],[4059,-3978],[4225,-3978],[3111,-4031],[3204,-4031],[3274,-4031],[3411,-4031],[3622,-4031],[2649,-4088],[3182,-4171],
  [3389,-4171],[3530,-4171],[4151,-4171],[3530,-4224],[3182,-4250],[3829,-4250],[3877,-4250],[3459,-4334],[3644,-4307],[3759,-4307],[3992,-4387],[3644,-4386],[3666,-4386],
  [3900,-4470],[3644,-4470],[4036,-4527],[4362,-4606],[4151,-4689],[4336,-4689],[4895,-4716],[4732,-4772],[4939,-4772],[4547,-4987],[1864,-4250],[2164,-4250],[2024,-4307],
  [1657,-4171],[1402,-4307],[1446,-4250],[1609,-4417],[1169,-4470],[1376,-4470],[1239,-4527],[2142,-4470],[2209,-4746],[965,-4772],[869,-4637],[618,-4716],[2490,-4005],
  [-4610,-1786],[-4103,-1917],[-4055,-1961],[-4217,-2058],[-4125,-2058],[-4125,-2387],[-3988,-2413],[-3940,-2387],[-4080,-2852],[-4173,-2992],[-3733,-3128],[-3455,-3128],
  [-3592,-3185],[-3500,-3238],[-4010,-3295],[-3962,-3347],[-4820,-3321],[-4125,-3404],[-3733,-3347],[-3755,-3404],[-3640,-3374],[-3548,-3431],[-3477,-3484],[-3988,-3510],
  [-3314,-3510],[-3592,-3676],[-3684,-3733],[-4055,-3703],[-3988,-3703],[-3522,-3786],[-3130,-3786],[-3988,-3922],[-3337,-3948],[-3107,-3948],[-3292,-4032],[-3988,-4089],
  [-4147,-4115],[-3152,-4115],[-3200,-4172],[-2874,-4141],[-2715,-4115],[-2574,-4089],[-2737,-4225],[-3130,-4361],[-3918,-4471],[-4425,-4554],[-3522,-4580],[-2504,-4690],
  [-2160,-4580],[-1394,-4716],[-843,-4716],[-887,-4988],[-2852,-3812],[-2667,-3979],[-2963,-3650],[-1927,-4058],[-1187,-4527],[-1095,-4580],
  [-4544,1316],[-4359,1285],[-4311,1482],[-4451,1096],[-4592,1013],[-4773,877],[-4751,767],[-4866,737],[-4751,715],[-4914,-250],[-4932,-444],[-4844,-470],[-4796,-470],
  [-4796,-689],[-4751,-768],[-4611,-988],[-4751,-1071],[-4474,-1071],[-4592,-1207],[-4518,-1207],[-4359,-1207],[-4474,-1347],[-4266,-1260],[-4962,-1646],[-4611,-1786],
  [4499,1566],[4292,1373],[4336,1232],[4525,1066],[4499,903],[4825,794],[4987,1342],[4710,438],[4710,245],[4776,109],[4869,109],[4662,0],[4732,-110],[4895,-470],[4917,-522],
  [4961,-522],[4939,-632],[4939,-799],[4987,-768],[4939,-1207],[4617,-1646],[4477,-1290],[4314,-1347],[4407,-1347],[4292,-1479],[4270,-1593],
  [33,934],[107,890],[-52,803],[-60,671],[155,649],[329,575],[-392,649],[-492,759],[-652,443],[-744,517],[-818,267],[-492,276],[-633,329],[-337,197],[-245,219],[-207,496],
  [-60,298],[244,386],[366,276],[662,355],[754,460],[828,329],[-78,167],[199,136],[-422,109],[688,167],
  [-651,5],[-515,-74],[-374,-52],[-330,-83],[-145,31],[-78,31],[-34,-22],[-60,-74],[40,-74],[133,-74],[318,-74],[-100,-131],[89,-131],[-448,-250],[-263,-272],[-122,-272],
  [181,-294],[525,-250],[688,-272],[-515,-434],[-374,-469],[362,-381],[595,-381],[-171,-601],[614,-601],[714,-601],[-540,-680],[-589,-710],[-378,-767],[385,-789],[292,-855],
  [151,-930],[200,145],[-422,123],[921,-30]];

// speck shapes seen in the picture, in bins, and the row scatter they sit at
var speckShapes = [[[0,0]], [[0,0],[1,0]], [[0,0],[0,1]], [[0,0],[1,0],[1,1]], [[0,0],[1,0],[2,0]], [[0,0]], [[0,0],[1,1]]];
var rowScatter = [0,-3,2,-1,3,-2,1];

var svg = d3.select("#chart");

var x = d3.scaleLinear().domain([-5000, 5000]).range([187, 1088]);
var y = d3.scaleLinear().domain([-5000, 5000]).range([791, 31]);
var colorY = d3.scaleLinear().domain([0, 260]).range([791, 45]);
var color = d3.scaleQuantize().domain([0, colorMax]).range(palette);

// histogram grid, 0 means an empty bin
var nBins = 10000 / binSize;
var grid = new Float32Array(nBins * nBins);

function binOf(v) { return Math.max(0, Math.min(nBins - 1, Math.floor((v + 5000) / binSize))); }

function paintPolygon(pts, paint) {
  var i0 = binOf(d3.min(pts, function (p) { return p[0]; })),
      i1 = binOf(d3.max(pts, function (p) { return p[0]; })),
      j0 = binOf(d3.min(pts, function (p) { return p[1]; })),
      j1 = binOf(d3.max(pts, function (p) { return p[1]; }));
  for (var j = j0; j <= j1; j++) {
    for (var i = i0; i <= i1; i++) {
      var c = [-5000 + (i + 0.5) * binSize, -5000 + (j + 0.5) * binSize];
      if (d3.polygonContains(pts, c)) {
        var k = j * nBins + i;
        grid[k] = paint(grid[k], i, j);
      }
    }
  }
}

// turn a spine with half widths into quads, one per segment
function ribbonQuads(st) {
  var quads = [];
  for (var n = 0; n + 5 < st.length; n += 3) {
    var x0 = st[n], y0 = st[n + 1], w0 = st[n + 2],
        x1 = st[n + 3], y1 = st[n + 4], w1 = st[n + 5],
        len = Math.hypot(x1 - x0, y1 - y0) || 1,
        nx = -(y1 - y0) / len, ny = (x1 - x0) / len;
    quads.push([[x0 + nx * w0, y0 + ny * w0], [x1 + nx * w1, y1 + ny * w1],
                [x1 - nx * w1, y1 - ny * w1], [x0 - nx * w0, y0 - ny * w0]]);
  }
  return quads;
}

function fluctuation(i, j) {
  var rows = binFluctuation.length, cols = binFluctuation[0].length;
  var r = (j + Math.floor(i / cols) * 3) % rows;
  var c = (i + Math.floor(j / rows) * 5) % cols;
  return binFluctuation[r][c] / 100;
}

var setTo = function (v) { return function () { return v; }; };
var raiseTo = function (v) {
  return function (old, i, j) { return Math.max(old, v * fluctuation(i, j)); };
};

paintPolygon(outline, setTo(baseLevel));
paintPolygon(rightStrip, setTo(baseLevel));

streaks.forEach(function (group) {
  group.forEach(function (r) {
    ribbonQuads(r.slice(1)).forEach(function (q) { paintPolygon(q, raiseTo(r[0])); });
  });
});
ribbonQuads(quietBar).forEach(function (q) { paintPolygon(q, setTo(baseLevel)); });
paintPolygon(hole, setTo(0));
gaps.forEach(function (g) {
  ribbonQuads(g).forEach(function (q) { paintPolygon(q, setTo(0)); });
});

function clearSpeck(px, py, scatter) {
  var i = binOf(px), j = binOf(py);
  if (scatter) j += rowScatter[i % rowScatter.length];
  speckShapes[(i + j) % speckShapes.length].forEach(function (o) {
    var a = i + o[0], b = j + o[1];
    if (a >= 0 && a < nBins && b >= 0 && b < nBins) grid[b * nBins + a] = 0;
  });
}
speckRows.forEach(function (row) {
  row.slice(1).forEach(function (px) {
    clearSpeck(px, row[0], true);
    // the patches hold about twice what the rows list, so each entry stands for a close pair
    clearSpeck(px + 40, row[0] + 45, true);
  });
});
looseSpecks.forEach(function (p) { clearSpeck(p[0], p[1], false); });
strayPoints.forEach(function (p) { grid[binOf(p[1]) * nBins + binOf(p[0])] = baseLevel; });

// one rect per run of same coloured bins in a row
var runs = [];
for (var j = 0; j < nBins; j++) {
  var i = 0;
  while (i < nBins) {
    var v = grid[j * nBins + i];
    var c = v > 0 ? color(v) : null;
    var start = i;
    i++;
    while (i < nBins) {
      var w = grid[j * nBins + i];
      if ((w > 0 ? color(w) : null) !== c) break;
      i++;
    }
    if (c) runs.push({ j: j, i0: start, i1: i, fill: c });
  }
}

svg.append("g")
  .attr("shape-rendering", "crispEdges")
  .selectAll("rect")
  .data(runs)
  .enter()
  .append("rect")
    .attr("x", function (d) { return x(-5000 + d.i0 * binSize); })
    .attr("y", function (d) { return y(-5000 + (d.j + 1) * binSize); })
    .attr("width", function (d) { return x(-5000 + d.i1 * binSize) - x(-5000 + d.i0 * binSize); })
    .attr("height", function (d) { return y(-5000 + d.j * binSize) - y(-5000 + (d.j + 1) * binSize) + 0.4; })
    .style("fill", function (d) { return d.fill; });

// axes
function styleTicks(g) {
  g.selectAll("line").style("stroke", "#1a1a1a").style("stroke-width", 2);
  g.selectAll("path.domain").remove();
}

svg.append("g").attr("transform", "translate(0,791)")
  .call(d3.axisBottom(x).tickValues(minorTicks).tickSize(-16).tickFormat(""))
  .call(styleTicks);
svg.append("g").attr("class", "x major").attr("transform", "translate(0,791)")
  .call(d3.axisBottom(x).tickValues(xMajor).tickSize(-31).tickPadding(38).tickFormat(String))
  .call(styleTicks);
svg.append("g").attr("transform", "translate(187,0)")
  .call(d3.axisLeft(y).tickValues(minorTicks).tickSize(-19).tickFormat(""))
  .call(styleTicks);
svg.append("g").attr("class", "y major").attr("transform", "translate(187,0)")
  .call(d3.axisLeft(y).tickValues(yMajor).tickSize(-38).tickPadding(9).tickFormat(String))
  .call(styleTicks);

svg.selectAll(".x.major text, .y.major text")
  .style("font-size", "41px").style("font-weight", "bold").style("font-family", "'Liberation Sans'");
svg.selectAll(".x.major text").attr("y", 45).attr("dy", 0);

svg.append("rect")
  .attr("x", 187).attr("y", 30.5).attr("width", 901).attr("height", 760.5)
  .style("fill", "none").style("stroke", "#1a1a1a").style("stroke-width", 2);

svg.append("text")
  .attr("x", 1085).attr("y", 863)
  .attr("text-anchor", "end")
  .style("font-size", "41px").style("font-weight", "bold")
  .text("MM-GlobalX [mm]");
svg.append("text")
  .attr("transform", "translate(78,33) rotate(-90)")
  .attr("text-anchor", "end")
  .style("font-size", "41px").style("font-weight", "bold")
  .text("MM-GlobalY [mm]");

// colour bar
var bandSize = colorMax / palette.length;
svg.append("g")
  .attr("shape-rendering", "crispEdges")
  .selectAll("rect")
  .data(palette)
  .enter()
  .append("rect")
    .attr("x", 1099)
    .attr("width", 51)
    .attr("y", function (d, i) { return colorY((i + 1) * bandSize); })
    .attr("height", function (d, i) { return colorY(i * bandSize) - colorY((i + 1) * bandSize) + 0.5; })
    .style("fill", function (d) { return d; });

var colorAxis = svg.append("g").attr("class", "z").attr("transform", "translate(1150,0)")
  .call(d3.axisRight(colorY).tickValues(colorTicks).tickSize(-36).tickPadding(6).tickFormat(d3.format("d")));
colorAxis.selectAll("line").style("stroke", "#111").style("stroke-width", 2);
colorAxis.select("path.domain")
  .attr("d", "M0," + colorY(colorMax) + "V" + colorY(0))
  .style("stroke", "#111").style("stroke-width", 2);
colorAxis.selectAll("text")
  .style("font-size", "36px").style("font-family", "'Liberation Sans'").attr("dy", "0.27em");

// faded browser toolbar over the right edge
var icons = svg.append("g").attr("opacity", 0.85)
  .style("fill", "none").style("stroke", "#c6d5e8").style("stroke-width", 5);
icons.append("path").attr("d", "M1210,458 H1218 L1222,452 H1232 L1236,458 V476 H1210 Z").style("fill", "#c6d5e8").style("stroke", "none").attr("opacity", 0.85);
icons.append("circle").attr("cx", 1225).attr("cy", 467).attr("r", 6).style("stroke", "#f0f4fa").style("stroke-width", 3);
icons.append("circle").attr("cx", 1226).attr("cy", 507).attr("r", 14);
icons.append("path").attr("d", "M1221,503 Q1226,496 1231,503 Q1231,507 1226,510 V513").style("stroke-width", 3);
icons.append("circle").attr("cx", 1225).attr("cy", 547).attr("r", 9).style("fill", "#c6d5e8").style("stroke", "none");
icons.append("path").attr("d", "M1208,590 H1236 M1222,576 V604 M1216,581 L1222,575 L1228,581 M1216,599 L1222,605 L1228,599 M1214,584 L1208,590 L1214,596");
icons.append("path").attr("d", "M1208,627 H1236 M1226,617 L1236,627 L1226,637");
icons.append("path").attr("d", "M1222,690 V662 M1210,674 L1222,662 L1234,674");
icons.append("path").attr("d", "M1210,714 L1236,702 L1228,728 L1222,716 Z").style("stroke-width", 3);
icons.append("path").attr("d", "M1208,744 H1236 M1208,752 H1236 M1208,760 H1226").style("stroke-width", 3);
icons.append("circle").attr("cx", 1223).attr("cy", 797).attr("r", 14).style("fill", "#c8d8ec").style("stroke", "none");
icons.append("circle").attr("cx", 1224).attr("cy", 797).attr("r", 5).style("fill", "#f6e7b8").style("stroke", "none");
icons.append("rect").attr("x", 1217).attr("y", 824).attr("width", 15).attr("height", 36).style("fill", "#dfe6d8").style("stroke", "none");
</script>
</body>
</html>
